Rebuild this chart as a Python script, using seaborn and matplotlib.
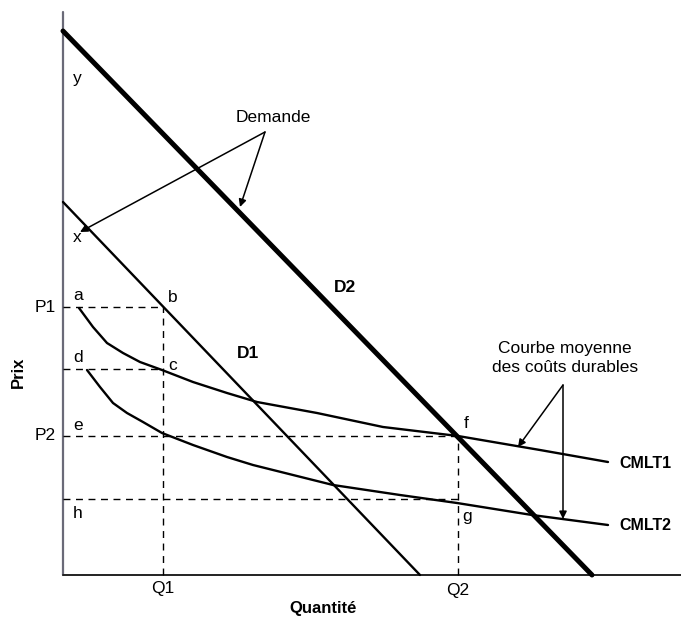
import matplotlib
matplotlib.use("Agg")
import matplotlib.pyplot as plt
import seaborn as sns

sns.set_theme(style="white")
plt.rcParams['font.family'] = ['Liberation Sans', 'DejaVu Sans']
plt.rcParams['text.color'] = 'black'

# ---- data (quantity / price units) ----
d1_q = [0, 357]
d1_p = [373, 0]
d2_q = [0, 529]
d2_p = [544, 0]

cmlt1_q = [16, 30, 44, 60, 77, 99, 130, 164, 194, 254, 320, 395, 477, 545]
cmlt1_p = [267, 248, 232, 222, 213, 205, 193, 182, 173, 162, 148, 139, 125, 113]
cmlt2_q = [24, 37, 50, 64, 80, 99, 130, 164, 190, 270, 337, 394, 469, 545]
cmlt2_p = [205, 188, 172, 162, 153, 142, 130, 118, 110, 90, 80, 72, 60, 50]

Q1, Q2 = 100, 395
P1, Pc, P2, Ph = 268, 206, 139, 76

price_ticks = ["P1", "P2"]
qty_ticks = ["Q1", "Q2"]

fig = plt.figure(figsize=(6.81, 6.17), dpi=100)
ax = fig.add_axes([0, 0, 1, 1])
ax.set_xlim(-63, 618)
ax.set_ylim(-42, 575)
ax.axis('off')

# axes lines
ax.plot([0, 0], [0, 563], color='#6a6a78', lw=1.6)
ax.plot([0, 618], [0, 0], color='#222222', lw=1.4)

# demand curves
sns.lineplot(x=d2_q, y=d2_p, ax=ax, color='black', lw=3.6, sort=False, estimator=None)
sns.lineplot(x=d1_q, y=d1_p, ax=ax, color='black', lw=1.7, sort=False, estimator=None)

# cost curves
sns.lineplot(x=cmlt1_q, y=cmlt1_p, ax=ax, color='black', lw=1.7, sort=False, estimator=None)
sns.lineplot(x=cmlt2_q, y=cmlt2_p, ax=ax, color='black', lw=1.7, sort=False, estimator=None)

# dashed guides
dash = dict(color='black', lw=1.0, ls=(0, (5, 4)))
ax.plot([0, Q1], [P1, P1], **dash)
ax.plot([0, Q1], [Pc, Pc], **dash)
ax.plot([0, Q2], [P2, P2], **dash)
ax.plot([0, Q2], [Ph, Ph], **dash)
ax.plot([Q1, Q1], [0, P1], **dash)
ax.plot([Q2, Q2], [0, P2], **dash)

fs = 12.5
# point letters
for t, (x, y) in {"y": (14, 497), "x": (14, 337), "a": (15, 280), "b": (110, 278),
                  "c": (110, 210), "d": (15, 218), "e": (15, 150), "h": (15, 62),
                  "f": (403, 152), "g": (404, 58)}.items():
    ax.text(x, y, t, fontsize=fs, ha='center', va='center', color='black')

# tick labels
ax.text(-7, P1, price_ticks[0], fontsize=fs, ha='right', va='center')
ax.text(-7, P2, price_ticks[1], fontsize=fs, ha='right', va='center')
ax.text(Q1, -14, qty_ticks[0], fontsize=fs, ha='center', va='center')
ax.text(Q2, -15, qty_ticks[1], fontsize=fs, ha='center', va='center')

ax.text(-45, 203, "Prix", fontsize=12, fontweight='bold', rotation=90, ha='center', va='center')
ax.text(260, -34, "Quantité", fontsize=12, fontweight='bold', ha='center', va='center')

ax.text(185, 221, "D1", fontsize=12.5, fontweight='bold', ha='center', va='center')
ax.text(282, 288, "D2", fontsize=12.5, fontweight='bold', ha='center', va='center')
ax.text(556, 112, "CMLT1", fontsize=11.5, fontweight='bold', ha='left', va='center')
ax.text(556, 50, "CMLT2", fontsize=11.5, fontweight='bold', ha='left', va='center')

ax.text(210, 457, "Demande", fontsize=fs, ha='center', va='center')
ax.text(502, 217, "Courbe moyenne\ndes coûts durables", fontsize=fs, ha='center', va='center',
        linespacing=1.25)

arr = dict(arrowstyle='-|>', lw=1.1, color='black', mutation_scale=11, shrinkA=0, shrinkB=0)
ax.annotate("", xy=(17, 343), xytext=(202, 443), arrowprops=arr)
ax.annotate("", xy=(177, 368), xytext=(202, 443), arrowprops=arr)
ax.annotate("", xy=(455, 128), xytext=(500, 190), arrowprops=arr)
ax.annotate("", xy=(500, 56), xytext=(500, 190), arrowprops=arr)

fig.savefig("out.png", dpi=100, facecolor='white')
